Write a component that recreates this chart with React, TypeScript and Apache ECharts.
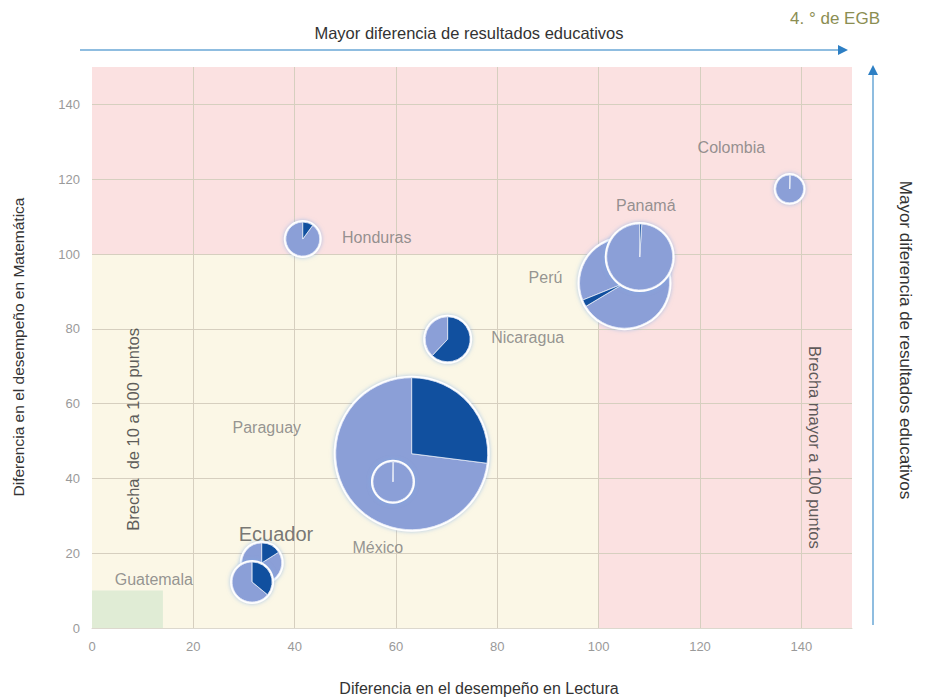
import React, { useEffect, useRef } from "react";
import * as echarts from "echarts";

// Countries drawn as pie bubbles (draw order: back to front)
const countries = ["Colombia", "Perú", "Panamá", "Honduras", "Nicaragua", "Paraguay", "México", "Ecuador", "Guatemala"];
const lecturaDiff = [137.7, 105.1, 108.1, 41.6, 70.2, 63.1, 59.4, 33.5, 31.6];
const matematicaDiff = [117.4, 92.2, 99.2, 104.0, 77.2, 46.6, 39.1, 17.4, 12.3];
const darkShare = [0.5, 2.5, 1, 10, 62, 27, 0.5, 16, 36];
const darkStartDeg = [0, 239, 0, 0, 0, 0, 0, 0, 0];
const bubbleSize = [31, 324, 174, 46, 81, 924, 64, 64, 64];

// Labels
const labelTexts = ["Colombia", "Panamá", "Perú", "Honduras", "Nicaragua", "Paraguay", "Ecuador", "México", "Guatemala"];
const labelX = [126.2, 109.3, 89.5, 56.2, 86.0, 34.5, 36.3, 56.4, 12.2];
const labelY = [128.4, 112.9, 93.8, 104.3, 77.7, 53.6, 25.2, 21.4, 12.9];

const xTicks = [0, 20, 40, 60, 80, 100, 120, 140];
const yTicks = [0, 20, 40, 60, 80, 100, 120, 140];

const LIGHT = "#8b9fd7";
const DARK = "#11509f";
const R_SCALE = 2.5;
const GRID_COLOR = "#d6cfbf";
const FONT = "Liberation Sans";

export default function App() {
  const ref = useRef<HTMLDivElement>(null);
  useEffect(() => {
    if (!ref.current) return;
    const chart = echarts.init(ref.current, null, { renderer: "svg" });
    const pieData = countries.map((n, i) => ({
      name: n,
      value: [lecturaDiff[i], matematicaDiff[i], darkShare[i], bubbleSize[i], darkStartDeg[i]],
    }));
    const labelData = labelTexts.map((t, i) => {
      const d: any = { name: t, value: [labelX[i], labelY[i]] };
      if (t === "Ecuador") d.label = { fontSize: 20, color: "#555" };
      return d;
    });
    const gridLines: any[] = [];
    xTicks.filter((v) => v > 0).forEach((v) => gridLines.push({ xAxis: v }));
    yTicks.filter((v) => v > 0).forEach((v) => gridLines.push({ yAxis: v }));
    const option: any = {
      animation: false,
      backgroundColor: "#fff",
      grid: { left: 92, right: 82, top: 67, bottom: 69 },
      xAxis: {
        type: "value",
        min: 0,
        max: 150,
        interval: 20,
        axisLine: { show: true, lineStyle: { color: "#dcd8ce" } },
        axisTick: { show: false },
        splitLine: { show: false },
        axisLabel: {
          color: "#9a9a9a",
          fontSize: 13,
          margin: 12,
          showMaxLabel: false,
          formatter: (v: number) => (xTicks.includes(v) ? String(v) : ""),
        },
      },
      yAxis: {
        type: "value",
        min: 0,
        max: 150,
        interval: 20,
        axisLine: { show: false },
        axisTick: { show: false },
        splitLine: { show: false },
        axisLabel: {
          color: "#9a9a9a",
          fontSize: 13,
          margin: 12,
          showMaxLabel: false,
          formatter: (v: number) => (yTicks.includes(v) ? String(v) : ""),
        },
      },
      graphic: [
        {
          type: "text",
          x: 469,
          y: 33,
          style: { text: "Mayor diferencia de resultados educativos", fill: "#333", fontSize: 16.5, fontFamily: FONT, align: "center", verticalAlign: "middle" },
        },
        { type: "line", shape: { x1: 80, y1: 50, x2: 840, y2: 50 }, style: { stroke: "#8fbde0", lineWidth: 2 } },
        { type: "polygon", shape: { points: [[838, 45], [848, 50], [838, 55]] }, style: { fill: "#2d7fc4" } },
        {
          type: "text",
          x: 835,
          y: 18,
          style: { text: "4. ° de EGB", fill: "#8b8e52", fontSize: 17, fontFamily: FONT, align: "center", verticalAlign: "middle" },
        },
        { type: "line", shape: { x1: 873, y1: 625, x2: 873, y2: 74 }, style: { stroke: "#8fbde0", lineWidth: 2 } },
        { type: "polygon", shape: { points: [[868, 75], [873, 65], [878, 75]] }, style: { fill: "#2d7fc4" } },
        {
          type: "text",
          x: 905,
          y: 340,
          rotation: -Math.PI / 2,
          style: { text: "Mayor diferencia de resultados educativos", fill: "#333", fontSize: 17, fontFamily: FONT, align: "center", verticalAlign: "middle" },
        },
        {
          type: "text",
          x: 18,
          y: 347,
          rotation: Math.PI / 2,
          style: { text: "Diferencia en el desempeño en Matemática", fill: "#333", fontSize: 15.5, fontFamily: FONT, align: "center", verticalAlign: "middle" },
        },
        {
          type: "text",
          x: 479,
          y: 688,
          style: { text: "Diferencia en el desempeño en Lectura", fill: "#333", fontSize: 16, fontFamily: FONT, align: "center", verticalAlign: "middle" },
        },
      ],
      series: [
        {
          type: "line",
          data: [],
          silent: true,
          z: 1,
          markArea: {
            silent: true,
            data: [
              [{ coord: [0, 100], itemStyle: { color: "#fbe1e1" } }, { coord: [150, 150] }],
              [{ coord: [100, 0], itemStyle: { color: "#fbe1e1" } }, { coord: [150, 100] }],
              [{ coord: [0, 0], itemStyle: { color: "#fbf7e6" } }, { coord: [100, 100] }],
              [{ coord: [0, 0], itemStyle: { color: "#e0ecd5" } }, { coord: [14, 10] }],
            ],
          },
        },
        {
          type: "line",
          data: [],
          silent: true,
          z: 2,
          markLine: {
            silent: true,
            symbol: "none",
            label: { show: false },
            lineStyle: { color: GRID_COLOR, type: "solid", width: 1 },
            data: gridLines,
          },
        },
        {
          type: "custom",
          clip: false,
          z: 10,
          data: pieData,
          renderItem: (params: any, api: any) => {
            const c = api.coord([api.value(0), api.value(1)]);
            const r = R_SCALE * Math.sqrt(api.value(3));
            const share = api.value(2) / 100;
            const start = ((api.value(4) - 90) * Math.PI) / 180;
            const mid = start + share * 2 * Math.PI;
            const end = start + 2 * Math.PI;
            return {
              type: "group",
              children: [
                {
                  type: "circle",
                  shape: { cx: c[0], cy: c[1], r: r + 2 },
                  style: { fill: "#ffffff", shadowBlur: 4, shadowColor: "rgba(120,170,230,0.6)" },
                },
                {
                  type: "sector",
                  shape: { cx: c[0], cy: c[1], r0: 0, r, startAngle: mid, endAngle: end, clockwise: true },
                  style: { fill: LIGHT, stroke: "#e8ecf8", lineWidth: 0.8 },
                },
                {
                  type: "sector",
                  shape: { cx: c[0], cy: c[1], r0: 0, r, startAngle: start, endAngle: mid, clockwise: true },
                  style: { fill: DARK, stroke: "#e8ecf8", lineWidth: 0.8 },
                },
              ],
            };
          },
        },
        {
          type: "scatter",
          data: labelData,
          symbolSize: 1,
          z: 12,
          itemStyle: { color: "rgba(0,0,0,0)" },
          silent: true,
          label: {
            show: true,
            position: "inside",
            formatter: (p: any) => p.name,
            color: "#7a7a7a",
            fontSize: 16,
            fontFamily: FONT,
          },
        },
        {
          type: "scatter",
          z: 12,
          data: [
            { name: "Brecha  de 10 a 100 puntos", value: [8.1, 53.1], label: { rotate: 90 } },
            { name: "Brecha mayor a 100 puntos", value: [142.6, 48.3], label: { rotate: -90 } },
          ],
          symbolSize: 1,
          itemStyle: { color: "rgba(0,0,0,0)" },
          silent: true,
          label: {
            show: true,
            position: "inside",
            formatter: (p: any) => p.name,
            color: "#333",
            fontSize: 16.5,
            fontFamily: FONT,
          },
        },
      ],
    };
    chart.setOption(option);
    return () => chart.dispose();
  }, []);
  return <div ref={ref} style={{ position: "fixed", left: 0, top: 0, width: 934, height: 697 }} />;
}
